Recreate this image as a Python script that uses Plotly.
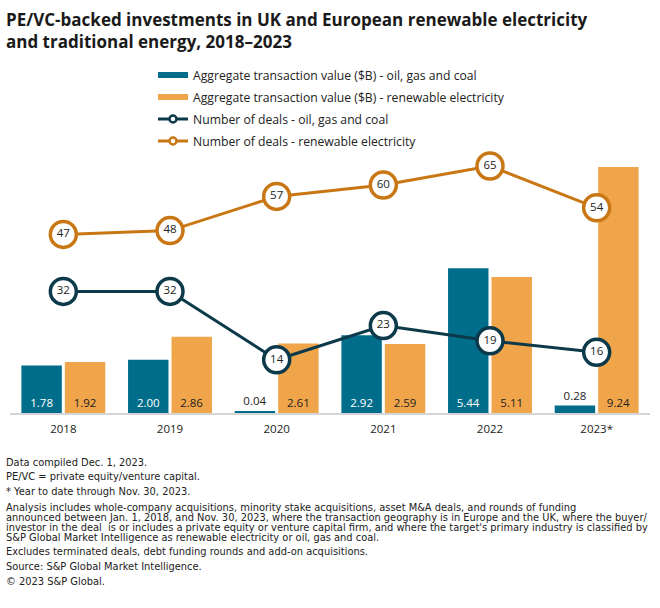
import plotly.graph_objects as go

years = ["2018", "2019", "2020", "2021", "2022", "2023*"]
value_ogc = [1.78, 2.00, 0.04, 2.92, 5.44, 0.28]
value_ren = [1.92, 2.86, 2.61, 2.59, 5.11, 9.24]
deals_ogc = [32, 32, 14, 23, 19, 16]
deals_ren = [47, 48, 57, 60, 65, 54]

names = [
    "Aggregate transaction value ($B) - oil, gas and coal",
    "Aggregate transaction value ($B) - renewable electricity",
    "Number of deals - oil, gas and coal",
    "Number of deals - renewable electricity",
]

TEAL = "#006e8a"
ORANGE_BAR = "#f0a54a"
NAVY = "#0c3a4a"
ORANGE_LINE = "#c97714"
TXT = "#222222"
FONT = "Open Sans"
FOOT_FONT = "DejaVu Sans"

W, H = 660, 608
L, R, T, B = 10, 10, 150, 195
PW, PH = W - L - R, H - T - B


def px(x):
    return (x - L) / PW


def py(y):
    return (H - B - y) / PH


fig = go.Figure()


def bar_trace(vals, color, inside_col):
    pos = ["outside" if v < 0.5 else "inside" for v in vals]
    return go.Bar(
        x=years, y=vals, marker=dict(color=color, line=dict(width=0)),
        text=[f"{v:.2f}" for v in vals], textposition=pos,
        insidetextanchor="start", textangle=0, constraintext="none",
        insidetextfont=dict(color=inside_col, size=11.5, family=FONT),
        outsidetextfont=dict(color=TXT, size=11.5, family=FONT),
        cliponaxis=False, showlegend=False, hoverinfo="skip",
    )


fig.add_trace(bar_trace(value_ogc, TEAL, "white"))
fig.add_trace(bar_trace(value_ren, ORANGE_BAR, TXT))


def line_trace(vals, color):
    return go.Scatter(
        x=years, y=vals, yaxis="y2", mode="lines+markers+text",
        line=dict(color=color, width=3),
        marker=dict(size=26, color="white", line=dict(color=color, width=3.5)),
        text=[str(v) for v in vals], textposition="middle center",
        textfont=dict(size=11.5, color=TXT, family=FONT),
        cliponaxis=False, showlegend=False, hoverinfo="skip",
    )


fig.add_trace(line_trace(deals_ogc, NAVY))
fig.add_trace(line_trace(deals_ren, ORANGE_LINE))

leg_styles = [
    dict(mode="lines", line=dict(color=TEAL, width=6)),
    dict(mode="lines", line=dict(color=ORANGE_BAR, width=6)),
    dict(mode="lines+markers", line=dict(color=NAVY, width=3),
         marker=dict(size=7, color="white", line=dict(color=NAVY, width=2.5))),
    dict(mode="lines+markers", line=dict(color=ORANGE_LINE, width=3),
         marker=dict(size=7, color="white", line=dict(color=ORANGE_LINE, width=2.5))),
]
for i, (nm, st) in enumerate(zip(names, leg_styles)):
    fig.add_trace(go.Scatter(x=[None], y=[None], name=nm, legendgroup=f"g{i}",
                             legendrank=i + 1, showlegend=True, **st))

title_text = ("PE/VC-backed investments in UK and European renewable electricity"
              "<br>and traditional energy, 2018\u20132023")

annotations = [dict(
    text=title_text, x=px(4), y=py(30.5), xref="paper", yref="paper",
    xanchor="left", yanchor="middle", align="left", showarrow=False,
    font=dict(size=17, color="#1a1a1a", family=FONT, weight=700),
)]

foot = [
    (462, "Data compiled Dec. 1, 2023."),
    (476.5, "PE/VC = private equity/venture capital."),
    (491.5, "* Year to date through Nov. 30, 2023."),
    (507, "Analysis includes whole-company acquisitions, minority stake acquisitions, asset M&A deals, and rounds of funding"),
    (517, "announced between Jan. 1, 2018, and Nov. 30, 2023, where the transaction geography is in Europe and the UK, where the buyer/"),
    (527, "investor in the deal  is or includes a private equity or venture capital firm, and where the target's primary industry is classified by"),
    (537, "S&P Global Market Intelligence as renewable electricity or oil, gas and coal."),
    (551, "Excludes terminated deals, debt funding rounds and add-on acquisitions."),
    (566, "Source: S&P Global Market Intelligence."),
    (581, "\u00a9 2023 S&P Global."),
]
for fy, ft in foot:
    annotations.append(dict(
        text=ft.replace("&", "&amp;"), x=px(4), y=py(fy), xref="paper", yref="paper",
        xanchor="left", yanchor="middle", showarrow=False,
        font=dict(size=9.9, color=TXT, family=FOOT_FONT),
    ))

fig.update_layout(
    template="none",
    width=W, height=H,
    margin=dict(l=L, r=R, t=T, b=B, pad=0, autoexpand=False),
    paper_bgcolor="white", plot_bgcolor="white",
    font=dict(family=FONT, color=TXT, size=12),
    barmode="group", bargap=0.185, bargroupgap=0.07,
    xaxis=dict(type="category", showline=True, linecolor="#d4d4d4", linewidth=2,
               ticks="", showgrid=False, zeroline=False,
               tickfont=dict(size=11.5, color=TXT),
               ticklabelstandoff=4, fixedrange=True, automargin=False),
    yaxis=dict(range=[0, PH / 26.62], visible=False, showgrid=False,
               fixedrange=True, automargin=False),
    yaxis2=dict(range=[0, PH / 3.80], overlaying="y", visible=False,
                showgrid=False, fixedrange=True, automargin=False),
    legend=dict(x=px(153), y=py(60.5), xanchor="left", yanchor="top",
                font=dict(size=12.2, color=TXT, family=FONT),
                tracegroupgap=3, itemwidth=30, bgcolor="rgba(0,0,0,0)",
                traceorder="grouped"),
    annotations=annotations,
    showlegend=True,
)

fig.write_html("out.html", config={"displayModeBar": False},
               post_script="document.body.style.margin='0px';")
